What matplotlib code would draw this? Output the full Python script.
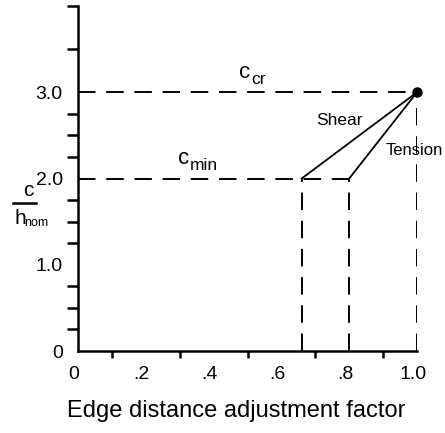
'''

edge distance adjustment factor chart

'''
import matplotlib
matplotlib.use('Agg')
import matplotlib.pyplot as plt
import matplotlib.transforms as mtransforms
from matplotlib.lines import Line2D

# ratios c / h_nom
c_min_ratio = 2.0
c_cr_ratio = 3.0

# edge distance factors where each curve starts at c_min
shear_x = [0.66, 1.0]
shear_y = [2.0, 3.0]
tension_x = [0.8, 1.0]
tension_y = [2.0, 3.0]

x_tick_vals = [0, 0.2, 0.4, 0.6, 0.8, 1.0]
x_tick_labels = ['0', '.2', '.4', '.6', '.8', '1.0']
x_marks = [0.1, 0.2, 0.3, 0.4, 0.5, 0.6, 0.7, 0.8, 0.9, 1.0]
y_tick_vals = [0, 1, 2, 3]
y_tick_labels = ['0', '1.0', '2.0', '3.0']
y_marks = [0.25, 0.5, 0.75, 1.0, 1.25, 1.5, 1.75, 2.0, 2.25, 2.5, 2.75, 3.0, 3.5, 4.0]


def main():
    ''' the main module '''
    plot_data()
    return


def sub_label(ax, x, y, main_txt, sub_txt):
    ''' a letter with a subscript next to it '''
    ax.text(x, y, main_txt, fontsize=16, ha='left', va='baseline')
    ax.annotate(sub_txt, (x, y), xytext=(8.6, -4.5), textcoords='offset points',
                fontsize=12.5, ha='left', va='baseline')
    return


def plot_data():
    ''' draw the chart '''
    plt.rcParams['font.family'] = ['Liberation Sans', 'DejaVu Sans']
    fig = plt.figure(figsize=(4.45, 4.33), dpi=100)
    ax = fig.add_axes([78 / 445, 82 / 433, 339 / 445, 345 / 433])

    dash = (0, (9, 5.5))
    lw = 1.4
    # dashed guides
    ax.plot([0, 1.0], [c_cr_ratio, c_cr_ratio], color='black', lw=lw, ls=dash)
    ax.plot([0, tension_x[0]], [c_min_ratio, c_min_ratio], color='black', lw=lw, ls=dash)
    ax.plot([shear_x[0], shear_x[0]], [0, c_min_ratio], color='black', lw=lw, ls=dash)
    ax.plot([tension_x[0], tension_x[0]], [0, c_min_ratio], color='black', lw=lw, ls=dash)
    ax.plot([1.0, 1.0], [0, c_cr_ratio], color='black', lw=lw, ls=dash)

    # solid curves
    ax.plot(shear_x, shear_y, color='black', lw=1.3)
    ax.plot(tension_x, tension_y, color='black', lw=1.3)
    ax.plot([1.0], [c_cr_ratio], 'o', color='black', ms=6.5, clip_on=False)

    sub_label(ax, 0.475, 3.17, 'c', 'cr')
    sub_label(ax, 0.295, 2.17, 'c', 'min')
    ax.text(0.77, 2.67, 'Shear', fontsize=12.5, ha='center', va='center')
    ax.text(0.906, 2.33, 'Tension', fontsize=12, ha='left', va='center', clip_on=False)

    ax.set_xlim(0, 1.0)
    ax.set_ylim(0, 4.0)
    for side in ['top', 'right']:
        ax.spines[side].set_visible(False)
    for side in ['left', 'bottom']:
        ax.spines[side].set_linewidth(1.8)
    ax.spines['bottom'].set_bounds(0, 1.0)

    ax.set_xticks(x_tick_vals)
    ax.set_xticklabels(x_tick_labels, fontsize=14)
    ax.set_xticks(x_marks, minor=True)
    ax.set_yticks(y_tick_vals)
    ax.set_yticklabels(y_tick_labels, fontsize=14)
    ax.set_yticks(y_marks, minor=True)
    ax.tick_params(axis='x', which='major', length=0, pad=11)
    ax.tick_params(axis='x', which='minor', length=5, width=1.8, direction='out')
    ax.tick_params(axis='y', which='major', length=0, pad=11)
    ax.tick_params(axis='y', which='minor', length=8, width=1.8, direction='out')

    shift = mtransforms.ScaledTranslation(-4 / 100, 0, fig.dpi_scale_trans)
    for lab in ax.get_xticklabels():
        lab.set_transform(lab.get_transform() + shift)

    ax.set_xlabel('Edge distance adjustment factor', fontsize=17, labelpad=12)
    ax.xaxis.label.set_x((236.5 - 78) / 339)

    # c / h_nom fraction label
    fig.text(28 / 445, 1 - 190 / 433, 'c', fontsize=15, ha='center', va='center')
    fig.add_artist(Line2D([13 / 445, 36 / 445], [1 - 203 / 433, 1 - 203 / 433],
                          color='black', lw=1.8))
    fig.text(14 / 445, 1 - 218 / 433, 'h', fontsize=15, ha='left', va='center')
    fig.text(24 / 445, 1 - 223 / 433, 'nom', fontsize=9, ha='left', va='center')

    fig.savefig('out.png', dpi=100)
    print('the plot is saved here: out.png')
    return


if __name__ == '__main__':
    main()
